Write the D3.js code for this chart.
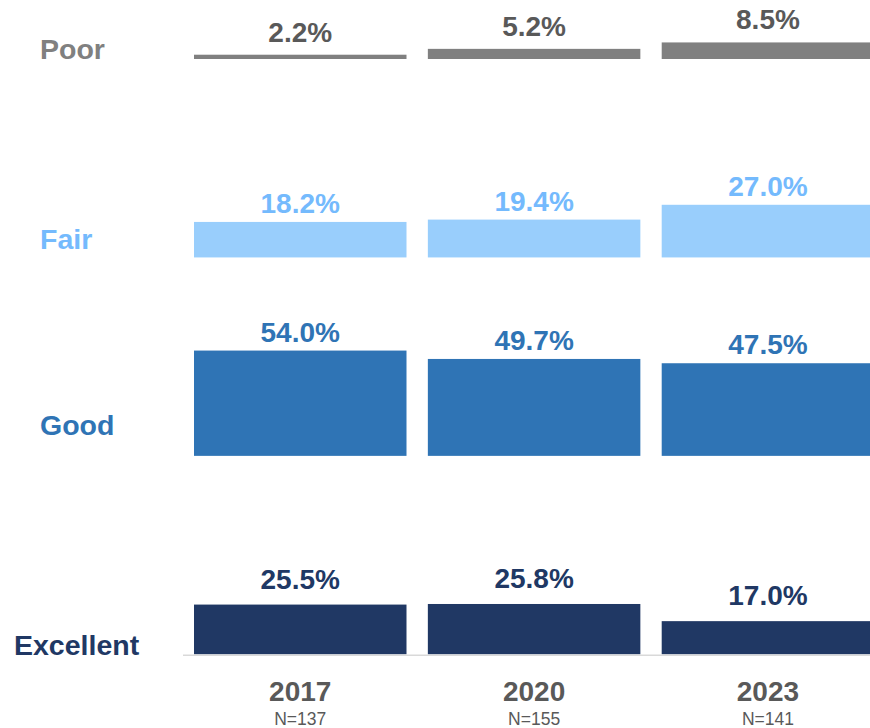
<!DOCTYPE html>
<html>
<head>
<meta charset="utf-8">
<script src="https://cdn.jsdelivr.net/npm/d3@7"></script>
<style>
  html, body { margin: 0; padding: 0; background: #fff; }
  svg { display: block; font-family: "Liberation Sans", Arial, Helvetica, sans-serif; }
</style>
</head>
<body>
<svg id="chart" width="870" height="728"></svg>
<script>
// ---- data ----
const years = ["2017", "2020", "2023"];
const sampleSizes = ["N=137", "N=155", "N=141"];
const ratings = ["Poor", "Fair", "Good", "Excellent"];
const poorValues = [2.2, 5.2, 8.5];
const fairValues = [18.2, 19.4, 27.0];
const goodValues = [54.0, 49.7, 47.5];
const excellentValues = [25.5, 25.8, 17.0];

const seriesValues = {
  Poor: poorValues,
  Fair: fairValues,
  Good: goodValues,
  Excellent: excellentValues
};

// ---- styling ----
const style = {
  Poor:      { bar: "#808080", text: "#595959", label: "#808080", labelX: 40, labelDy: 0,   valueGap: 13 },
  Fair:      { bar: "#99CEFC", text: "#74BAFD", label: "#74BAFD", labelX: 40, labelDy: -8.5, valueGap: 9 },
  Good:      { bar: "#2F74B5", text: "#2F74B5", label: "#2F74B5", labelX: 40, labelDy: -20.5, valueGap: 9 },
  Excellent: { bar: "#203864", text: "#203864", label: "#203864", labelX: 14, labelDy: 0.5, valueGap: 16 }
};

const svg = d3.select("#chart");

const x = d3.scaleBand().domain(years).range([194, 874.2]).paddingInner(0.0913).paddingOuter(0);
const rowBase = d3.scalePoint().domain(ratings).range([59, 654.3]);
const h = d3.scaleLinear().domain([0, 100]).range([0, 195]);

const fmt = d => d.toFixed(1) + "%";

ratings.forEach(r => {
  const st = style[r];
  const base = rowBase(r);
  const g = svg.append("g").attr("class", "row-" + r);
  const data = years.map((y, i) => ({ year: y, value: seriesValues[r][i] }));

  g.selectAll("rect")
    .data(data)
    .join("rect")
    .attr("x", d => x(d.year))
    .attr("width", x.bandwidth())
    .attr("y", d => base - h(d.value))
    .attr("height", d => h(d.value))
    .attr("fill", st.bar);

  g.selectAll("text.val")
    .data(data)
    .join("text")
    .attr("class", "val")
    .attr("x", d => x(d.year) + x.bandwidth() / 2)
    .attr("y", d => base - h(d.value) - st.valueGap)
    .attr("text-anchor", "middle")
    .attr("font-size", 28)
    .attr("font-weight", "bold")
    .attr("fill", st.text)
    .text(d => fmt(d.value));

  g.append("text")
    .attr("x", st.labelX)
    .attr("y", base + st.labelDy)
    .attr("font-size", 28.5)
    .attr("font-weight", "bold")
    .attr("fill", st.label)
    .text(r);
});

// baseline axis line
const lastBase = rowBase("Excellent");
svg.append("line")
  .attr("x1", 183).attr("x2", 870)
  .attr("y1", lastBase + 1).attr("y2", lastBase + 1)
  .attr("stroke", "#d9d9d9").attr("stroke-width", 1.5);

// year labels
svg.selectAll("text.year")
  .data(years)
  .join("text")
  .attr("class", "year")
  .attr("x", d => x(d) + x.bandwidth() / 2)
  .attr("y", 700.5)
  .attr("text-anchor", "middle")
  .attr("font-size", 28)
  .attr("font-weight", "bold")
  .attr("fill", "#595959")
  .text(d => d);

svg.selectAll("text.n")
  .data(years.map((y, i) => ({ year: y, n: sampleSizes[i] })))
  .join("text")
  .attr("class", "n")
  .attr("x", d => x(d.year) + x.bandwidth() / 2)
  .attr("y", 725)
  .attr("text-anchor", "middle")
  .attr("font-size", 17.5)
  .attr("fill", "#595959")
  .text(d => d.n);
</script>
</body>
</html>
